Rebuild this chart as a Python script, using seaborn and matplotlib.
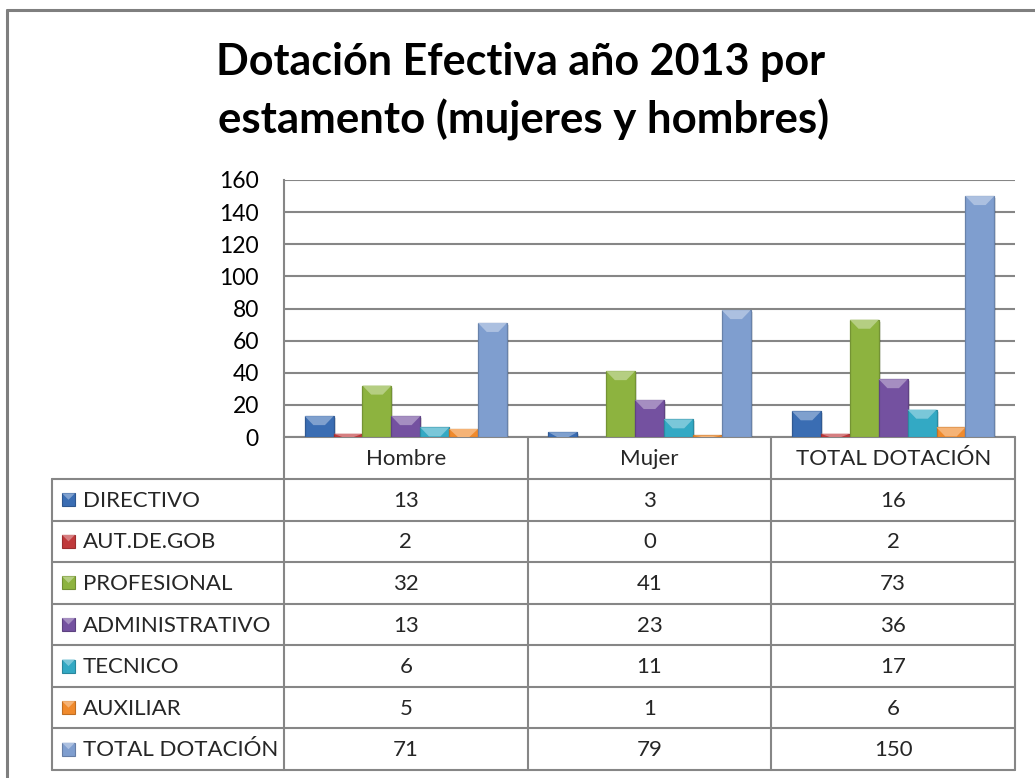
import numpy as np
import pandas as pd
import matplotlib
matplotlib.use("Agg")
import matplotlib.pyplot as plt
import seaborn as sns

categories = ["Hombre", "Mujer", "TOTAL DOTACIÓN"]
series = ["DIRECTIVO", "AUT.DE.GOB", "PROFESIONAL", "ADMINISTRATIVO",
          "TECNICO", "AUXILIAR", "TOTAL DOTACIÓN"]
directivo = [13, 3, 16]
aut_de_gob = [2, 0, 2]
profesional = [32, 41, 73]
administrativo = [13, 23, 36]
tecnico = [6, 11, 17]
auxiliar = [5, 1, 6]
total_dotacion = [71, 79, 150]
colors = ["#3A6DB3", "#C0393B", "#8DB33F", "#7451A0", "#33A9C4", "#F08A2C", "#7F9ECF"]
yticks = [0, 20, 40, 60, 80, 100, 120, 140, 160]
title_lines = ["Dotación Efectiva año 2013 por", "estamento (mujeres y hombres)"]

values = [directivo, aut_de_gob, profesional, administrativo, tecnico, auxiliar, total_dotacion]
rows = []
for s, vals in zip(series, values):
    for c, v in zip(categories, vals):
        rows.append({"cat": c, "serie": s, "val": v})
df = pd.DataFrame(rows)

sns.set_theme(style="white")
plt.rcParams["font.family"] = ["Lato", "DejaVu Sans"]

W, H = 1035, 778
fig = plt.figure(figsize=(W / 100, H / 100), dpi=100)
fig.patch.set_facecolor("white")

# geometry in px
PL, PR, PT, PB = 284, 1015, 180, 437
TL = 52
HDR_B = 479
TB = 770
GRAY = "#868686"

def fx(px):
    return px / W

def fy(py):
    return 1 - py / H

# background layer for table, title, border
tax = fig.add_axes([0, 0, 1, 1])
tax.set_xlim(0, W)
tax.set_ylim(H, 0)
tax.axis("off")
tax.set_zorder(0)

ax = fig.add_axes([fx(PL), fy(PB), (PR - PL) / W, (PB - PT) / H])
ax.set_zorder(1)
ax.patch.set_alpha(0)

sns.barplot(data=df, x="cat", y="val", hue="serie", order=categories,
            hue_order=series, palette=colors, saturation=1, width=0.83,
            legend=False, ax=ax, edgecolor="none", linewidth=0)

ax.set_ylim(0, 160)
ax.set_yticks(yticks)
ax.set_xlim(-0.5, 2.5)
ax.set_xticks([])
ax.set_xlabel("")
ax.set_ylabel("")
ax.yaxis.grid(True, color=GRAY, linewidth=1.5)
ax.set_axisbelow(True)
for side in ["top", "right", "bottom"]:
    ax.spines[side].set_visible(False)
ax.spines["left"].set_color(GRAY)
ax.spines["left"].set_linewidth(1.5)
ax.tick_params(axis="y", length=0, pad=18, labelsize=16.5, colors="black")

# bevel highlight + soft shadow on bars
units_per_px = 160 / (PB - PT)
for p in list(ax.patches):
    h = p.get_height()
    if h <= 0:
        continue
    x0 = p.get_x()
    w = p.get_width()
    bx = w * 0.3
    by = min(h, 9 * units_per_px)
    fc = p.get_facecolor()
    light = tuple(min(1, c + (1 - c) * 0.35) for c in fc[:3])
    dark = tuple(c * 0.82 for c in fc[:3])
    p.set_zorder(2)
    shadow = plt.Rectangle((x0 + w * 0.07, 0), w, max(h - 2 * units_per_px, 0),
                           facecolor="#000000", alpha=0.12, edgecolor="none", zorder=1.5)
    ax.add_patch(shadow)
    tri = plt.Polygon([(x0, h), (x0 + w, h), (x0 + w - bx, h - by), (x0 + bx, h - by)],
                      closed=True, facecolor=light, edgecolor="none", zorder=3)
    ax.add_patch(tri)
    p.set_edgecolor(dark)
    p.set_linewidth(0.9)

# outer border
tax.plot([7, 7], [10, H], color="#7F7F7F", lw=2.2)
tax.plot([7, W], [10, 10], color="#7F7F7F", lw=2.2)

# title
tax.text(521, 75, title_lines[0], ha="center", va="baseline", fontsize=31,
         fontweight="bold", color="black")
tax.text(524, 133, title_lines[1], ha="center", va="baseline", fontsize=31.5,
         fontweight="bold", color="black")

# table
cols = [PL + i * (PR - PL) / 3 for i in range(4)]
row_h = (TB - HDR_B) / len(series)
rows_y = [HDR_B + i * row_h for i in range(len(series) + 1)]
lw = 1.5
tax.plot([PL, PR], [PB, PB], color=GRAY, lw=lw)
for y in rows_y:
    tax.plot([TL, PR], [y, y], color=GRAY, lw=lw)
tax.plot([TL, TL], [HDR_B, TB], color=GRAY, lw=lw)
for x in cols:
    tax.plot([x, x], [PB, TB], color=GRAY, lw=lw)

fs = 16
for i, c in enumerate(categories):
    cx = (cols[i] + cols[i + 1]) / 2
    tax.text(cx, (PB + HDR_B) / 2 + 1, c, ha="center", va="center", fontsize=fs)

for r, (s, vals) in enumerate(zip(series, values)):
    cy = (rows_y[r] + rows_y[r + 1]) / 2
    base = matplotlib.colors.to_rgb(colors[r])
    tax.add_patch(plt.Rectangle((62, cy - 6.5), 13, 13, facecolor=colors[r],
                                edgecolor=tuple(c * 0.8 for c in base), lw=0.8))
    tax.add_patch(plt.Polygon([(62, cy - 6.5), (75, cy - 6.5), (68.5, cy)],
                              facecolor=tuple(min(1, c + (1 - c) * 0.35) for c in base),
                              edgecolor="none"))
    tax.text(83, cy + 1, s, ha="left", va="center", fontsize=fs)
    for i, v in enumerate(vals):
        cx = (cols[i] + cols[i + 1]) / 2
        tax.text(cx, cy + 1, str(v), ha="center", va="center", fontsize=fs)

fig.savefig("out.png", dpi=100, facecolor="white")
